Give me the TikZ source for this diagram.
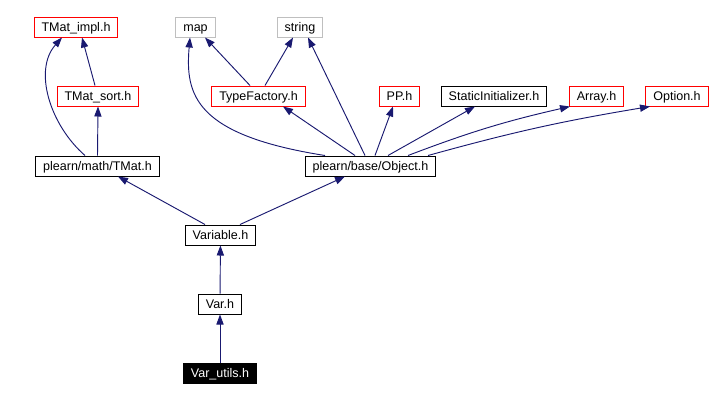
\documentclass[tikz,border=0pt]{standalone}
\usepackage{fontspec}
\setmainfont{Liberation Sans}
\usepackage{xcolor}
\usetikzlibrary{arrows.meta,calc}
\definecolor{edgeblue}{RGB}{25,25,112}
\definecolor{boxred}{RGB}{255,0,0}
\definecolor{boxgray}{RGB}{191,191,191}

\begin{document}
\begin{tikzpicture}[x=0.75pt, y=-0.75pt,
  file/.style={draw=black, line width=0.75pt, minimum height=15pt, inner xsep=5.5pt, inner ysep=0pt,
    text height=6.7pt, text depth=0.4pt, font=\fontsize{9.4}{11}\selectfont},
  undoc/.style={file, draw=boxred},
  sysfile/.style={file, draw=boxgray},
  cur/.style={file, fill=black, text=white},
  edge/.style={draw=edgeblue, line width=0.7pt, -{Triangle[length=7.5pt, width=5.4pt]}}]
\useasboundingbox (0,0) rectangle (710,401);
% top row
\node[undoc] (timpl) at (76,27) {TMat\_impl.h};
\node[sysfile] (map) at (195.5,27) {map};
\node[sysfile] (string) at (300,27) {string};
% second row
\node[undoc] (tsort) at (98,96) {TMat\_sort.h};
\node[undoc] (tfact) at (258.5,96) {TypeFactory.h};
\node[undoc] (pp) at (399.5,96) {PP.h};
\node[file] (sinit) at (494,96) {StaticInitializer.h};
\node[undoc] (arr) at (596.5,96) {Array.h};
\node[undoc] (opt) at (677,96) {Option.h};
% lower part
\node[file] (tmath) at (97.5,166) {plearn/math/TMat.h};
\node[file] (obj) at (370.5,166) {plearn/base/Object.h};
\node[file] (var) at (220.5,235) {Variable.h};
\node[file] (varh) at (220,304) {Var.h};
\node[cur] (vutil) at (220,373.5) {Var\_utils.h};

\draw[edge] ($(tmath.north)+(-12.5,0)$) .. controls (50,125) and (33,70) .. ($(timpl.south)+(-14,0)$);
\draw[edge] ($(tsort.north)+(-3,0)$) -- ($(timpl.south)+(6,0)$);
\draw[edge] (tmath.north) -- (tsort.south);
\draw[edge] ($(tfact.north)+(-8.5,0)$) -- ($(map.south)+(9.5,0)$);
\draw[edge] ($(tfact.north)+(6.5,0)$) -- ($(string.south)+(-7,0)$);
\draw[edge] ($(obj.north)+(-45.5,0)$) .. controls (195,135) and (185,95) .. ($(map.south)+(-5.5,0)$);
\draw[edge] ($(obj.north)+(-5.5,0)$) -- ($(string.south)+(8,0)$);
\draw[edge] ($(obj.north)+(-15.5,0)$) -- ($(tfact.south)+(24.5,0)$);
\draw[edge] ($(obj.north)+(4.5,0)$) -- ($(pp.south)+(-6.5,0)$);
\draw[edge] ($(obj.north)+(17.5,0)$) -- ($(sinit.south)+(-19,0)$);
\draw[edge] ($(obj.north)+(37.5,0)$) to[bend left=4] ($(arr.south)+(-26.5,0)$);
\draw[edge] ($(obj.north)+(57.5,0)$) to[bend left=3] ($(opt.south)+(-27,0)$);
\draw[edge] ($(var.north)+(-15.5,0)$) -- ($(tmath.south)+(20.5,0)$);
\draw[edge] ($(var.north)+(19.5,0)$) -- ($(obj.south)+(-25.5,0)$);
\draw[edge] (varh) -- (var);
\draw[edge] (vutil) -- (varh);
\end{tikzpicture}
\end{document}
